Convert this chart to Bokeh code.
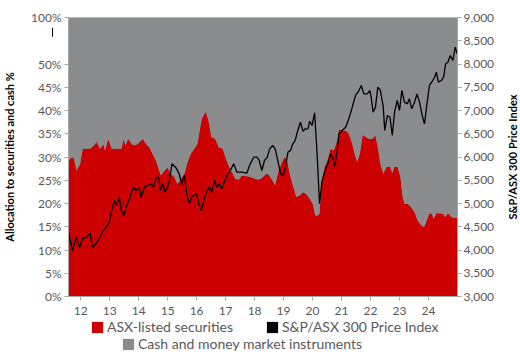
from bokeh.plotting import figure
from bokeh.layouts import column, row
from bokeh.models import (Range1d, LinearAxis, FixedTicker, Legend, LegendItem,
                          NumeralTickFormatter, Arrow, NormalHead, TeeHead, Title)
from bokeh.embed import file_html
from bokeh.resources import INLINE

# time axis: years as fractions, 12 = 2012
asx_x = [11.58, 11.63, 11.75, 11.86, 11.98, 12.07, 12.32, 12.45, 12.55, 12.67, 12.78, 12.84,
         12.95, 13.07, 13.41, 13.47, 13.55, 13.64, 13.76, 13.85, 13.97, 14.14, 14.25, 14.37,
         14.48, 14.60, 14.71, 14.77, 14.89, 15.00, 15.11, 15.23, 15.34, 15.46, 15.58, 15.69,
         15.80, 15.92, 16.03, 16.10, 16.18, 16.32, 16.41, 16.51, 16.64, 16.76, 16.90, 16.99,
         17.10, 17.22, 17.33, 17.45, 17.56, 17.79, 18.02, 18.14, 18.25, 18.36, 18.46, 18.58,
         18.71, 18.80, 18.92, 19.03, 19.13, 19.21, 19.32, 19.44, 19.55, 19.67, 19.78, 19.90,
         20.01, 20.09, 20.18, 20.24, 20.30, 20.41, 20.53, 20.62, 20.73, 20.85, 20.91, 21.02,
         21.14, 21.25, 21.37, 21.45, 21.54, 21.63, 21.73, 21.83, 21.94, 22.06, 22.17, 22.25,
         22.34, 22.44, 22.55, 22.67, 22.75, 22.83, 22.94, 23.03, 23.11, 23.17, 23.29, 23.40,
         23.52, 23.63, 23.75, 23.84, 23.92, 24.03, 24.11, 24.18, 24.27, 24.38, 24.49, 24.58,
         24.67, 24.78, 24.90, 25.00]
# ASX-listed securities, % of portfolio
asx_pct = [29.0, 29.6, 30.0, 27.1, 28.5, 31.8, 31.8, 32.4, 33.2, 31.8, 32.8, 31.4,
           33.9, 31.8, 31.8, 33.7, 32.6, 33.9, 32.8, 32.5, 32.8, 33.9, 32.8, 32.1,
           30.7, 29.2, 27.1, 26.0, 27.1, 27.7, 26.4, 25.7, 24.2, 25.3, 26.4, 28.9,
           30.7, 31.8, 32.8, 35.5, 38.2, 39.8, 37.8, 34.3, 33.9, 32.1, 31.8, 30.0,
           28.2, 26.7, 25.3, 25.1, 26.0, 25.8, 25.3, 25.1, 25.5, 26.2, 26.4, 25.3,
           23.9, 26.4, 28.5, 30.0, 29.2, 26.4, 23.9, 21.4, 21.7, 22.4, 22.1, 21.0,
           19.9, 17.4, 17.4, 17.8, 23.5, 27.8, 29.6, 31.8, 31.4, 33.5, 35.9, 35.7,
           35.7, 35.0, 32.8, 30.7, 28.9, 30.7, 34.8, 34.3, 33.9, 33.9, 34.6, 32.1,
           28.5, 26.4, 27.8, 28.0, 26.5, 28.0, 27.8, 25.7, 21.4, 19.9, 19.9, 19.2,
           18.1, 16.3, 15.3, 14.9, 16.0, 17.9, 17.8, 16.7, 17.9, 17.9, 17.8, 17.1,
           17.9, 17.1, 16.9, 16.9]

idx_x = [11.58, 11.72, 11.84, 11.96, 12.07, 12.21, 12.32, 12.41, 12.53, 12.67, 12.78, 12.90,
         12.99, 13.07, 13.16, 13.24, 13.33, 13.41, 13.49, 13.59, 13.70, 13.82, 13.91, 14.02,
         14.08, 14.20, 14.31, 14.43, 14.51, 14.60, 14.69, 14.75, 14.83, 14.91, 15.00, 15.06,
         15.15, 15.29, 15.40, 15.49, 15.58, 15.66, 15.75, 15.84, 15.93, 16.00, 16.07, 16.16,
         16.28, 16.36, 16.45, 16.53, 16.61, 16.70, 16.78, 16.87, 16.97, 17.05, 17.16, 17.28,
         17.39, 17.56, 17.73, 17.85, 17.97, 18.08, 18.16, 18.25, 18.34, 18.44, 18.52, 18.63,
         18.71, 18.80, 18.90, 18.98, 19.06, 19.15, 19.24, 19.32, 19.40, 19.49, 19.58, 19.67,
         19.75, 19.84, 19.90, 19.98, 20.07, 20.15, 20.24, 20.32, 20.41, 20.53, 20.62, 20.71,
         20.76, 20.85, 20.91, 21.02, 21.14, 21.25, 21.37, 21.48, 21.60, 21.68, 21.77, 21.89,
         21.98, 22.02, 22.09, 22.17, 22.25, 22.34, 22.44, 22.49, 22.58, 22.67, 22.75, 22.83,
         22.92, 23.00, 23.08, 23.17, 23.27, 23.34, 23.42, 23.52, 23.60, 23.69, 23.77, 23.86,
         23.94, 24.03, 24.11, 24.21, 24.27, 24.34, 24.44, 24.52, 24.59, 24.67, 24.75, 24.84,
         24.92, 24.99]
# S&P/ASX 300 Price Index
idx_val = [4383, 3989, 4275, 4060, 4240, 4275, 4370, 4060, 4133, 4275, 4419, 4505,
           4598, 4849, 5065, 4957, 5136, 4849, 4742, 4957, 5136, 5351, 5280, 5351,
           5136, 5351, 5387, 5423, 5351, 5552, 5566, 5280, 5423, 5244, 5351, 5495,
           5853, 5767, 5638, 5409, 5602, 5208, 4993, 5151, 5172, 5208, 4993, 4849,
           5136, 5280, 5351, 5244, 5509, 5351, 5423, 5316, 5495, 5602, 5710, 5853,
           5674, 5674, 5652, 5853, 5996, 5996, 5925, 5710, 5925, 5996, 6176, 6247,
           6176, 5925, 5638, 5602, 5781, 6104, 6140, 6284, 6355, 6570, 6748, 6555,
           6606, 6606, 6770, 6677, 6950, 6140, 4993, 5458, 5674, 5853, 6069, 5961,
           5796, 6140, 6499, 6570, 6641, 6821, 7071, 7323, 7430, 7538, 7358, 7358,
           7430, 7286, 6963, 7071, 7502, 7430, 7071, 6570, 6892, 6856, 6462, 6963,
           7215, 7000, 7430, 7179, 7143, 7251, 7036, 7179, 7358, 7179, 6928, 6713,
           7107, 7538, 7609, 7716, 7824, 7609, 7645, 7716, 8004, 8039, 8183, 8075,
           8362, 8219]

year_ticks = [12, 13, 14, 15, 16, 17, 18, 19, 20, 21, 22, 23, 24]
year_labels = ["12", "13", "14", "15", "16", "17", "18", "19", "20", "21", "22", "23", "24"]
pct_ticks = [0, 5, 10, 15, 20, 25, 30, 35, 40, 45, 50, 60]
pct_labels = ["0%", "5%", "10%", "15%", "20%", "25%", "30%", "35%", "40%", "45%", "50%", "100%"]
idx_ticks = [3000, 3500, 4000, 4500, 5000, 5500, 6000, 6500, 7000, 7500, 8000, 8500, 9000]

RED = "#CC0000"
GREY = "#8B8C8D"
TXT = "#595959"
AXC = "#A6A6A6"
FONT = "Lato"

fig = figure(width=504, height=319, output_backend="svg", toolbar_location=None,
             x_range=Range1d(asx_x[0], asx_x[-1]), y_range=Range1d(pct_ticks[0], pct_ticks[-1]),
             min_border_left=60, min_border_right=47, min_border_top=17, min_border_bottom=23)
fig.extra_y_ranges = {"idx": Range1d(idx_ticks[0], idx_ticks[-1])}
fig.background_fill_color = GREY
fig.border_fill_color = "white"
fig.outline_line_color = "#C8C8C8"
fig.grid.visible = False

red = fig.varea(x=asx_x, y1=0, y2=asx_pct, fill_color=RED)
grey = fig.varea(x=asx_x, y1=asx_pct, y2=pct_ticks[-1], fill_color=GREY)
fig.line(idx_x, idx_val, y_range_name="idx", line_color="black", line_width=1.3)

yl = fig.yaxis[0]
yl.ticker = FixedTicker(ticks=pct_ticks)
yl.major_label_overrides = {t: l for t, l in zip(pct_ticks, pct_labels)}
yl.axis_label = "Allocation to securities and cash %"

xa = fig.xaxis[0]
xa.ticker = FixedTicker(ticks=year_ticks)
xa.major_label_overrides = {t: l for t, l in zip(year_ticks, year_labels)}

yr = LinearAxis(y_range_name="idx", ticker=FixedTicker(ticks=idx_ticks),
                formatter=NumeralTickFormatter(format="0,0"))
fig.add_layout(yr, "right")

for ax in (yl, xa, yr):
    ax.axis_line_color = AXC
    ax.major_tick_line_color = AXC
    ax.minor_tick_line_color = None
    ax.major_tick_out = 4
    ax.major_tick_in = 0
    ax.major_label_text_color = TXT
    ax.major_label_text_font = FONT
    ax.major_label_text_font_size = "12px"
    ax.major_label_standoff = 3
    ax.axis_label_text_font = FONT
    ax.axis_label_text_font_style = "bold"
    ax.axis_label_text_font_size = "11px"
    ax.axis_label_text_color = "black"
xa.major_label_standoff = 6
yl.axis_label_standoff = 12
yr.major_label_standoff = 2

# break marker (up arrow) on the percentage axis: a bar for the shaft, a triangle for the tip
ax_x = asx_x[0] - 0.55
fig.add_layout(Arrow(start=None, end=TeeHead(size=16, line_width=3.5, line_color="black"),
                     x_start=ax_x - 0.2, y_start=54.3, x_end=ax_x, y_end=54.3,
                     line_color="black", line_width=1))
fig.add_layout(Arrow(start=None, end=NormalHead(size=9, fill_color="black", line_color="black",
                                                line_width=1),
                     x_start=ax_x, y_start=55.0, x_end=ax_x, y_end=57.8,
                     line_color="black", line_width=1))

# right-hand axis title, reading upwards
tfig = figure(width=14, height=319, output_backend="svg", toolbar_location=None,
              x_range=Range1d(0, 1), y_range=Range1d(0, 1),
              x_axis_type=None, y_axis_type=None, min_border=0)
tfig.outline_line_color = None
tfig.grid.visible = False
tfig.add_layout(Title(text="S&P/ASX 300 Price Index", align="center", standoff=0,
                      text_font=FONT, text_font_style="bold", text_font_size="11px",
                      text_color="black"), "left")

# legend strip below the chart
leg_fig = figure(width=518, height=33, output_backend="svg", toolbar_location=None,
                 x_range=Range1d(0, 1), y_range=Range1d(0, 1),
                 x_axis_type=None, y_axis_type=None,
                 min_border_left=60, min_border_right=55, min_border_top=0, min_border_bottom=0)
leg_fig.outline_line_color = None
leg_fig.grid.visible = False
sw_red = leg_fig.varea(x=asx_x, y1=asx_pct, y2=asx_pct, fill_color=RED)
sw_black = leg_fig.varea(x=asx_x, y1=asx_pct, y2=asx_pct, fill_color="black")
sw_grey = leg_fig.varea(x=asx_x, y1=asx_pct, y2=asx_pct, fill_color=GREY)

leg1 = Legend(items=[LegendItem(label="ASX-listed securities", renderers=[sw_red]),
                     LegendItem(label="S&P/ASX 300 Price Index", renderers=[sw_black])],
              orientation="horizontal", location=(30, 17))
leg2 = Legend(items=[LegendItem(label="Cash and money market instruments", renderers=[sw_grey])],
              orientation="horizontal", location=(61, 0))
for lg in (leg1, leg2):
    lg.label_text_font = FONT
    lg.label_text_font_size = "14px"
    lg.label_text_color = TXT
    lg.glyph_width = 14
    lg.glyph_height = 14
    lg.label_standoff = 3
    lg.label_height = 14
    lg.spacing = 32
    lg.padding = 1
    lg.margin = 0
    lg.border_line_color = None
    lg.background_fill_alpha = 0
    leg_fig.add_layout(lg)

p = column(row(fig, tfig, spacing=0), leg_fig, spacing=0)

open("out.html", "w").write(file_html(p, INLINE))
